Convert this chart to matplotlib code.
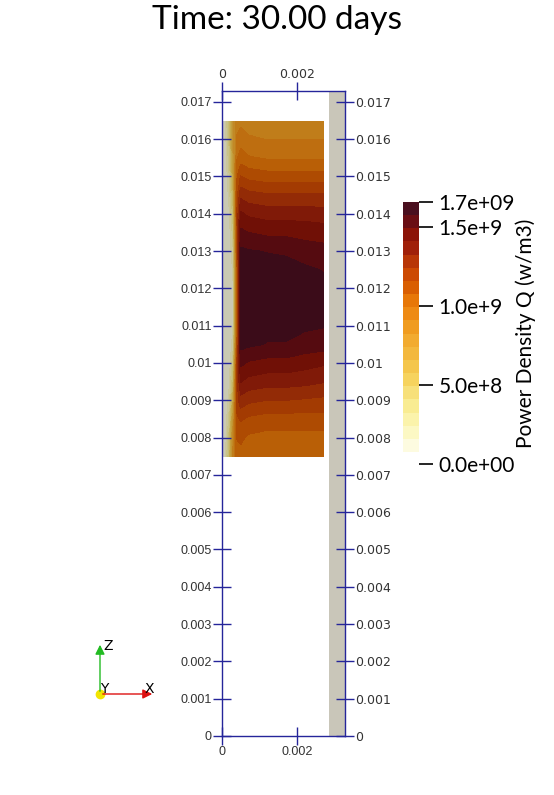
import numpy as np
import matplotlib.pyplot as plt
from matplotlib.colors import to_rgb

# radial / axial sample positions of the fuel column (mm)
x_mm = [0, 0.1, 0.2, 0.3, 0.4, 0.5, 0.7, 1.2, 1.7, 2.2, 2.7]
z_mm = [7.5, 8.0, 8.5, 9.0, 9.5, 10.0, 10.5, 11.0, 11.5, 12.0, 12.5,
        13.0, 13.5, 14.0, 14.5, 15.0, 15.5, 16.0, 16.46]

# power density Q (1e9 W/m3), one row per z
q_vals = [
    [0.05, 0.14, 0.42, 0.85, 1.03, 1.05, 1.02, 1.00, 1.00, 1.00, 1.00],
    [0.04, 0.12, 0.36, 0.80, 1.08, 1.09, 1.06, 1.045, 1.045, 1.045, 1.045],
    [0.03, 0.10, 0.28, 0.70, 1.14, 1.17, 1.14, 1.12, 1.12, 1.12, 1.12],
    [0.03, 0.08, 0.20, 0.55, 1.20, 1.29, 1.26, 1.24, 1.24, 1.23, 1.22],
    [0.02, 0.06, 0.14, 0.40, 1.20, 1.41, 1.38, 1.36, 1.36, 1.35, 1.33],
    [0.02, 0.05, 0.11, 0.30, 1.15, 1.51, 1.48, 1.46, 1.46, 1.44, 1.42],
    [0.02, 0.04, 0.09, 0.20, 1.05, 1.60, 1.59, 1.57, 1.57, 1.54, 1.53],
    [0.02, 0.04, 0.08, 0.15, 1.00, 1.62, 1.62, 1.60, 1.60, 1.59, 1.58],
    [0.02, 0.04, 0.08, 0.14, 1.00, 1.64, 1.64, 1.63, 1.63, 1.61, 1.60],
    [0.02, 0.04, 0.08, 0.14, 1.00, 1.64, 1.64, 1.63, 1.63, 1.61, 1.60],
    [0.02, 0.04, 0.09, 0.17, 1.02, 1.62, 1.62, 1.61, 1.61, 1.59, 1.57],
    [0.02, 0.05, 0.10, 0.22, 1.08, 1.59, 1.58, 1.57, 1.56, 1.53, 1.52],
    [0.02, 0.05, 0.12, 0.28, 1.12, 1.51, 1.49, 1.47, 1.47, 1.46, 1.45],
    [0.03, 0.06, 0.15, 0.36, 1.15, 1.42, 1.39, 1.37, 1.37, 1.37, 1.36],
    [0.03, 0.08, 0.19, 0.46, 1.13, 1.30, 1.27, 1.25, 1.25, 1.25, 1.25],
    [0.03, 0.09, 0.24, 0.56, 1.06, 1.16, 1.13, 1.11, 1.11, 1.11, 1.11],
    [0.04, 0.11, 0.30, 0.64, 0.98, 1.03, 1.00, 0.98, 0.98, 0.98, 0.98],
    [0.04, 0.13, 0.36, 0.70, 0.92, 0.95, 0.92, 0.905, 0.905, 0.905, 0.905],
    [0.05, 0.15, 0.40, 0.74, 0.87, 0.89, 0.87, 0.85, 0.85, 0.85, 0.85],
]

# cladding strip (m)
clad_x = [0.00285, 0.00328]
clad_z = [0.0, 0.01729]

z_ticks = [0, 0.001, 0.002, 0.003, 0.004, 0.005, 0.006, 0.007, 0.008,
           0.009, 0.01, 0.011, 0.012, 0.013, 0.014, 0.015, 0.016, 0.017]
x_ticks = [0, 0.002]

# discrete colour bands, low -> high
band_colors = ['#fdfbe0', '#fcf8c4', '#fbf3ab', '#f9ec92', '#f7e07a', '#f6d35e',
               '#f4c64c', '#f3b83e', '#f2ab30', '#f09c20', '#ee8a14', '#e77708',
               '#d95e02', '#cc4a03', '#b83607', '#a0200a', '#8c1408', '#6a0e14',
               '#4a0f1f']
q_min, q_max = 0.076, 1.658
cb_ticks = [0, 0.5, 1.0, 1.5, q_max]
cb_labels = ['0.0e+00', '5.0e+8', '1.0e+9', '1.5e+9', '1.7e+09']

navy = '#25259a'
W, H = 554, 795
fig = plt.figure(figsize=(W / 100, H / 100), dpi=100)

# main view
ax = fig.add_axes([222 / W, 1 - 736 / H, 123 / W, 645 / H])
x = np.array(x_mm) * 1e-3
z = np.array(z_mm) * 1e-3
Q = np.array(q_vals)
edges = np.linspace(q_min, q_max, len(band_colors) + 1)
levels = np.concatenate([[-1], edges[1:-1], [5]])
shaded = [tuple(0.8 * c for c in to_rgb(h)) for h in band_colors]
cs = ax.contourf(x, z, Q, levels=levels, colors=shaded)
cs.set_edgecolor('face')
cs.set_linewidth(0.4)
ax.fill_betweenx(clad_z, clad_x[0], clad_x[1], color='#c9c6b9', lw=0)
ax.set_xlim(0, 0.00328)
ax.set_ylim(0, 0.01729)

ax.set_yticks(z_ticks)
ax.set_yticklabels(['%g' % t for t in z_ticks])
ax.set_xticks(x_ticks)
ax.set_xticklabels(['%g' % t for t in x_ticks])
for lab in ax.get_xticklabels() + ax.get_yticklabels():
    lab.set_family('Liberation Sans')
ax.tick_params(axis='y', left=True, right=True, labelleft=True, labelright=True,
               direction='inout', length=13, width=1, color=navy,
               labelsize=9, labelcolor='#333333', pad=1)
ax.tick_params(axis='x', top=True, bottom=True, labeltop=True, labelbottom=True,
               direction='inout', length=13, width=1, color=navy,
               labelsize=9, labelcolor='#333333', pad=1)
for s in ax.spines.values():
    s.set_color(navy)
    s.set_linewidth(1)

# colour bar
cb = fig.add_axes([403 / W, 1 - 464 / H, 16 / W, 262 / H])
cb.bar(0, np.diff(edges), bottom=edges[:-1], width=1, color=band_colors, lw=0)
cb.set_xlim(-0.5, 0.5)
cb.set_ylim(0, q_max)
for s in cb.spines.values():
    s.set_visible(False)
cb.set_xticks([])
cb.set_yticks(cb_ticks)
cb.set_yticklabels(cb_labels, family='Lato', fontsize=15)
cb.tick_params(axis='y', left=False, right=True, labelleft=False, labelright=True,
               length=10, width=1.2, color='black', pad=4)
fig.text(526 / W, 1 - 333 / H, 'Power Density Q (w/m3)', rotation=90,
         ha='center', va='center', fontsize=15, family='Lato')

fig.text(0.5, 1 - 20 / H, 'Time: 30.00 days', ha='center', va='center',
         fontsize=24, family='Lato')

# orientation triad
tri = fig.add_axes([0, 0, 1, 1], zorder=-1)
tri.set_xlim(0, W)
tri.set_ylim(H, 0)
tri.axis('off')
ox, oy = 100, 694
tri.annotate('', xy=(ox, 642), xytext=(ox, oy),
             arrowprops=dict(arrowstyle='-|>', color='#22bb22', lw=1, mutation_scale=14))
tri.annotate('', xy=(155, oy), xytext=(ox, oy),
             arrowprops=dict(arrowstyle='-|>', color='#dd1111', lw=1, mutation_scale=14))
tri.plot(ox, oy, 'o', color='#f2e400', ms=6)
tri.text(103, 646, 'Z', fontsize=10, va='center')
tri.text(145, 689, 'X', fontsize=10, va='center')
tri.text(100, 689, 'Y', fontsize=10, va='center')

fig.savefig('out.png', dpi=100)
